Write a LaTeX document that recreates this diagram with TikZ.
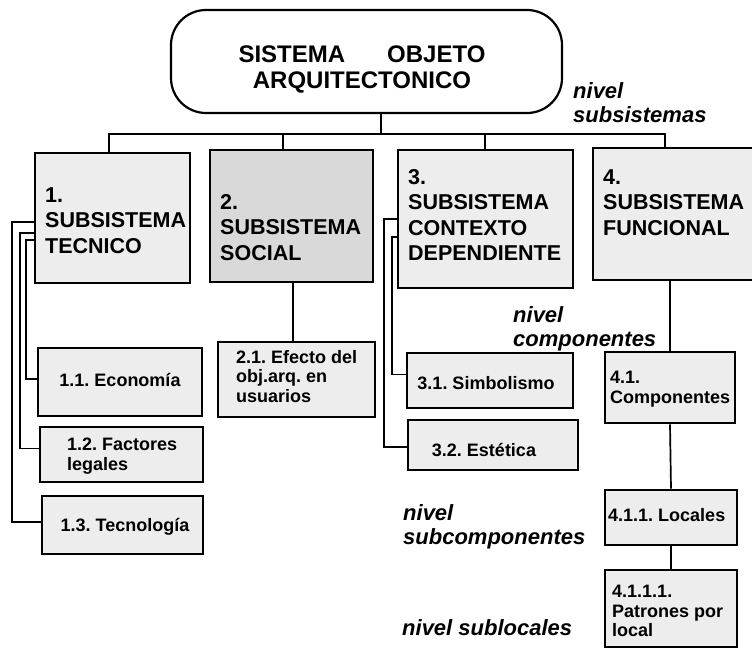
\documentclass[tikz,border=0pt]{standalone}
\usepackage{fontspec}
\setmainfont{Liberation Sans}
\frenchspacing
\begin{document}
\begin{tikzpicture}[x=1pt,y=-1pt,
  sbox/.style={draw, line width=2.6pt, fill=black!7, rectangle, inner sep=0pt},
  dbox/.style={sbox, fill=black!15},
  conn/.style={line width=1.7pt},
  ttl/.style={font=\fontsize{21.5}{25.5}\selectfont\bfseries, align=left, inner sep=0pt, anchor=north west},
  sml/.style={font=\fontsize{18}{19.5}\selectfont\bfseries, align=left, inner sep=0pt},
  lvl/.style={font=\fontsize{22}{24}\selectfont\bfseries\itshape, align=left, inner sep=0pt, anchor=north west}]
\useasboundingbox (0,0) rectangle (752,649);

% top node
\node[draw, line width=2.2pt, rounded corners=35pt, minimum width=391pt, minimum height=103pt, inner sep=0pt] (top) at (366.5,61.5) {};
\node[font=\fontsize{24}{26}\selectfont\bfseries, align=center, inner sep=0pt, anchor=north] (toptext) at (362,45.5) {SISTEMA\hspace{42pt}OBJETO\\ARQUITECTONICO};

% subsystem boxes
\node[sbox, minimum width=155pt, minimum height=130pt] (b1) at (112.5,218) {};
\node[dbox, minimum width=163pt, minimum height=132pt] (b2) at (291.5,216) {};
\node[sbox, minimum width=175pt, minimum height=138pt] (b3) at (485.5,219) {};
\node[sbox, minimum width=167pt, minimum height=132pt] (b4) at (676.5,214) {};

\node[ttl] (t1) at (45,187) {1.\\SUBSISTEMA\\TECNICO};
\node[ttl] (t2) at (220,194) {2.\\SUBSISTEMA\\SOCIAL};
\node[ttl] (t3) at (408,169) {3.\\SUBSISTEMA\\CONTEXTO\\DEPENDIENTE};
\node[ttl] (t4) at (603,169) {4.\\SUBSISTEMA\\FUNCIONAL};

% component boxes
\node[sbox, minimum width=164pt, minimum height=68pt] (b11) at (120,382) {};
\node[sbox, minimum width=163pt, minimum height=55pt] (b12) at (121.5,454.5) {};
\node[sbox, minimum width=161pt, minimum height=58pt] (b13) at (122.5,525) {};
\node[sbox, minimum width=157pt, minimum height=75pt] (b21) at (296.5,379.5) {};
\node[sbox, minimum width=166pt, minimum height=55pt] (b31) at (490,380.5) {};
\node[sbox, minimum width=170pt, minimum height=50pt] (b32) at (493,445) {};
\node[sbox, minimum width=130pt, minimum height=71pt] (b41) at (670,387.5) {};
\node[sbox, minimum width=132pt, minimum height=55pt] (b411) at (671,517.5) {};
\node[sbox, minimum width=132pt, minimum height=77pt] (b4111) at (671,608.5) {};

\node[sml, anchor=center] (t11) at (120,380) {1.1. Economía};
\node[sml, anchor=north west] (t12) at (67,438) {1.2. Factores\\legales};
\node[sml, anchor=north] (t13) at (125,518) {1.3. Tecnología};
\node[sml, anchor=north west] (t21) at (236,350) {2.1. Efecto del\\obj.arq. en\\usuarios};
\node[sml, anchor=north] (t31) at (486,376) {3.1. Simbolismo};
\node[sml, anchor=north] (t32) at (484,443) {3.2. Estética};
\node[sml, anchor=north west] (t41) at (610,371) {4.1.\\Componentes};
\node[sml, anchor=north west] (t411) at (608,508) {4.1.1. Locales};
\node[sml, anchor=north west] (t4111) at (612,585) {4.1.1.1.\\Patrones por\\local};

% level labels
\node[lvl] (l1) at (573,82) {nivel\\subsistemas};
\node[lvl] (l2) at (513,306) {nivel\\componentes};
\node[lvl] (l3) at (403,504) {nivel\\subcomponentes};
\node[lvl] (l4) at (402,619) {nivel sublocales};

% connectors
\coordinate (stem) at (381,134);
\coordinate (d1) at (109,134);
\coordinate (d2) at (283,134);
\coordinate (d3) at (485,134);
\coordinate (d4) at (665,134);
\draw[conn] (top.south -| stem) -- (stem);
\draw[conn] (b1.north -| d1) -- (d1) -- (d4) -- (b4.north -| d4);
\draw[conn] (d2) -- (b2.north -| d2);
\draw[conn] (d3) -- (b3.north -| d3);

\coordinate (x12) at (12,0);
\coordinate (x20) at (20,0);
\coordinate (x26) at (26,0);
\draw[conn] ([yshift=-4pt]b1.west) -- ([yshift=-4pt]b1.west -| x12) |- ([yshift=3pt]b13.west);
\draw[conn] ([yshift=-15pt]b1.west) -- ([yshift=-15pt]b1.west -| x20) |- ([yshift=6pt]b12.west);
\draw[conn] ([yshift=-22pt]b1.west) -- ([yshift=-22pt]b1.west -| x26) |- ([yshift=3pt]b11.west);

\coordinate (d21) at (293,0);
\draw[conn] (b2.south -| d21) -- (b21.north -| d21);

\coordinate (x384) at (384,0);
\coordinate (x392) at (392,0);
\draw[conn] (b3.west) -- (b3.west -| x384) |- ([yshift=-2pt]b32.west);
\draw[conn] ([yshift=-18pt]b3.west) -- ([yshift=-18pt]b3.west -| x392) |- ([yshift=6pt]b31.west);

\draw[conn] (b41.north |- b4.south) -- (b41.north);
\draw[conn] (b41.south) -- (b411.north);
\draw[conn] (b411.south) -- (b4111.north);
\end{tikzpicture}
\end{document}
